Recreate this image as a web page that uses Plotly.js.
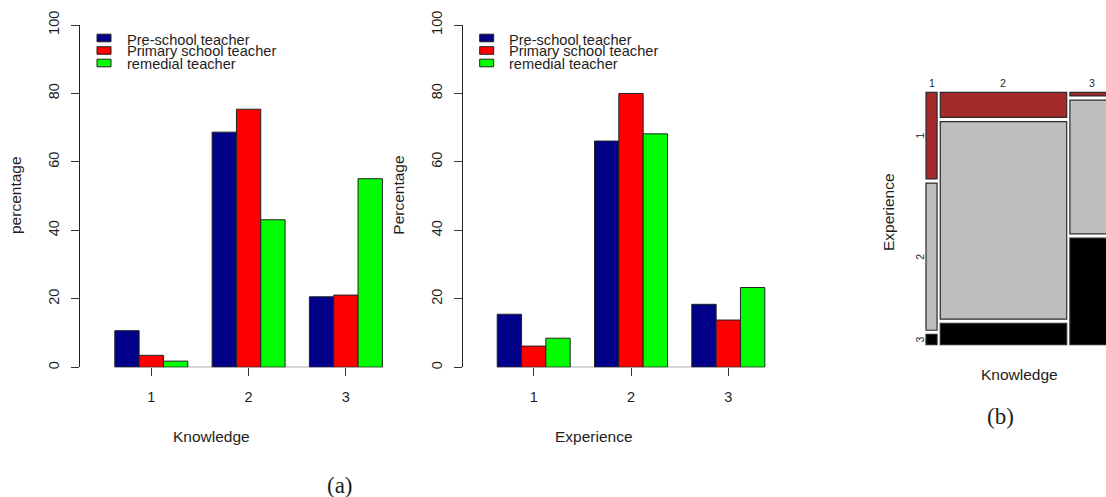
<!DOCTYPE html>
<html>
<head>
<meta charset="utf-8">
<script src="https://cdn.plot.ly/plotly-3.0.1.min.js"></script>
<style>
  html, body { margin: 0; padding: 0; background: #ffffff; }
  #chart { width: 1106px; height: 497px; }
</style>
</head>
<body>
<div id="chart"></div>
<script>
// ---- data -------------------------------------------------------------
const levels = ['1', '2', '3'];
const teacherGroups = ['Pre-school teacher', 'Primary school teacher', 'remedial teacher'];
const groupColors = ['#000088', '#ff0000', '#00ff00'];

// percentage of each teacher group at each knowledge level
const knowledgePre = [10.7, 68.7, 20.6];
const knowledgePrimary = [3.5, 75.4, 21.1];
const knowledgeRemedial = [1.8, 43.1, 55.1];

// percentage of each teacher group at each experience level
const experiencePre = [15.5, 66.1, 18.4];
const experiencePrimary = [6.2, 80.0, 13.8];
const experienceRemedial = [8.5, 68.2, 23.3];

const yTicks = [0, 20, 40, 60, 80, 100];

// mosaic: share of each knowledge level (column widths, %)
const mosaicKnowledgeShare = [6.1, 69.7, 24.2];
// experience share within each knowledge level (rows, top to bottom, %)
const mosaicExp1 = [35.5, 10.3, 1.5];
const mosaicExp2 = [60.3, 80.9, 54.8];
const mosaicExp3 = [4.2, 8.8, 43.7];
const mosaicColors = ['#a52a2a', '#bebebe', '#000000'];

// ---- page geometry helpers -------------------------------------------
const W = 1106, H = 497;
const px = x => x / W;
const py = y => 1 - y / H;
const FONT = 'Liberation Sans, Arial, sans-serif';
const SERIF = 'Liberation Serif, DejaVu Serif, serif';
const ink = '#1e1e1e';

// bar panels: y axis at left edge of the domain; 0 at y=367.3 px, 100 at y=25 px
const yDomain = [py(367.3), py(25)];
const unitPx = 97.3;                     // pixels per category step
const panels = [
  { axisPx: 80.0,  firstCenterPx: 151.3, xa: 'x',  ya: 'y',
    series: [knowledgePre, knowledgePrimary, knowledgeRemedial],
    ytitle: 'percentage', xtitle: 'Knowledge' },
  { axisPx: 462.7, firstCenterPx: 533.7, xa: 'x2', ya: 'y2',
    series: [experiencePre, experiencePrimary, experienceRemedial],
    ytitle: 'Percentage', xtitle: 'Experience' }
];

const traces = [];
const shapes = [];
const annotations = [];
const layout = {
  width: W, height: H,
  margin: { l: 0, r: 0, t: 0, b: 0 },
  paper_bgcolor: '#ffffff',
  plot_bgcolor: 'rgba(0,0,0,0)',
  showlegend: false,
  barmode: 'group',
  bargap: 0.25,
  bargroupgap: 0,
  font: { family: FONT, color: ink, size: 14 }
};

const catPos = levels.map((_, i) => i + 1);

panels.forEach((p, k) => {
  const widthPx = 314;
  const x0 = 1 - (p.firstCenterPx - p.axisPx) / unitPx;
  const x1 = x0 + widthPx / unitPx;
  const xName = k === 0 ? 'xaxis' : 'xaxis2';
  const yName = k === 0 ? 'yaxis' : 'yaxis2';

  layout[xName] = {
    domain: [px(p.axisPx), px(p.axisPx + widthPx)],
    range: [x0, x1],
    anchor: p.ya,
    tickmode: 'array', tickvals: catPos, ticktext: levels,
    ticks: 'outside', ticklen: 8, tickwidth: 1, tickcolor: '#333',
    ticklabelstandoff: 8,
    tickfont: { family: FONT, size: 14.5, color: ink },
    showline: false, showgrid: false, zeroline: false, fixedrange: true
  };
  layout[yName] = {
    domain: yDomain,
    range: [0, 100],
    anchor: p.xa,
    tickmode: 'array', tickvals: yTicks,
    tickangle: -90,
    ticks: 'outside', ticklen: 8, tickwidth: 1, tickcolor: '#333',
    ticklabelstandoff: 6,
    tickfont: { family: FONT, size: 14.5, color: ink },
    showline: true, linecolor: '#222', linewidth: 1,
    showgrid: false, zeroline: false, fixedrange: true
  };

  p.series.forEach((vals, s) => {
    traces.push({
      type: 'bar',
      x: catPos, y: vals,
      name: teacherGroups[s],
      xaxis: p.xa, yaxis: p.ya,
      marker: { color: groupColors[s], line: { color: '#222', width: 1 } },
      hoverinfo: 'skip'
    });
  });

  // baseline under the bars
  shapes.push({
    type: 'line', xref: p.xa, yref: p.ya,
    x0: 1 - 0.375, x1: levels.length + 0.375, y0: 0, y1: 0,
    line: { color: '#333', width: 1 }
  });

  // legend (boxes + labels) in the top-left of each panel
  const boxY = [38, 50.5, 63];
  const textY = [39.5, 51.5, 63.5];
  teacherGroups.forEach((g, s) => {
    shapes.push({
      type: 'rect', xref: 'paper', yref: 'paper',
      x0: px(p.axisPx + 17), x1: px(p.axisPx + 31),
      y0: py(boxY[s] + 3.8), y1: py(boxY[s] - 3.8),
      fillcolor: groupColors[s], line: { color: '#222', width: 1 }
    });
    annotations.push({
      xref: 'paper', yref: 'paper',
      x: px(p.axisPx + 44.5), y: py(textY[s]),
      xanchor: 'left', yanchor: 'middle', showarrow: false,
      text: g, font: { family: FONT, size: 14.6, color: ink }
    });
  });

  // axis titles
  annotations.push({
    xref: 'paper', yref: 'paper', x: px(p.axisPx - 65), y: py(195),
    xanchor: 'center', yanchor: 'middle', showarrow: false, textangle: -90,
    text: p.ytitle, font: { family: FONT, size: 15.5, color: ink }
  });
  annotations.push({
    xref: 'paper', yref: 'paper', x: px(p.axisPx + 131), y: py(436.5),
    xanchor: 'center', yanchor: 'middle', showarrow: false,
    text: p.xtitle, font: { family: FONT, size: 15.5, color: ink }
  });
});

annotations.push({
  xref: 'paper', yref: 'paper', x: px(340), y: py(485),
  xanchor: 'center', yanchor: 'middle', showarrow: false,
  text: '(a)', font: { family: SERIF, size: 23, color: ink }
});

// ---- mosaic plot --------------------------------------------------------
// axes x3/y3 use one unit per pixel
const mLeftPx = 926, mTopPx = 92.3, mBottomPx = 344.7;
const colGap = 3.2, rowGap = 4.2;
const mosaicWidth = 181.4;
const mosaicHeight = (mBottomPx - mTopPx) - 2 * rowGap;
const x3Lo = 870;
layout.xaxis3 = {
  domain: [px(x3Lo), 1], range: [x3Lo, W], anchor: 'y3',
  visible: false, fixedrange: true
};
layout.yaxis3 = {
  domain: [0, 1], range: [0, H], anchor: 'x3',
  visible: false, fixedrange: true
};

const rowsByLevel = [mosaicExp1, mosaicExp2, mosaicExp3];
const mx = [], mw = [], mbase = [], mh = [], mcol = [];
let colLeft = mLeftPx;
const colCenters = [];
mosaicKnowledgeShare.forEach((share, c) => {
  const w = share / 100 * mosaicWidth;
  colCenters.push(colLeft + w / 2);
  let top = H - mTopPx;                 // in y3 units (up = larger)
  rowsByLevel.forEach((row, r) => {
    const h = row[c] / 100 * mosaicHeight;
    mx.push(colLeft); mw.push(w);
    mbase.push(top - h); mh.push(h);
    mcol.push(mosaicColors[r]);
    top -= h + rowGap;
  });
  colLeft += w + colGap;
});

traces.push({
  type: 'bar', xaxis: 'x3', yaxis: 'y3',
  x: mx, y: mh, base: mbase, width: mw, offset: 0,
  marker: { color: mcol, line: { color: '#2a2a2a', width: 1.2 } },
  hoverinfo: 'skip', name: 'Experience by Knowledge'
});

// column labels (knowledge levels) above the tiles
levels.forEach((lab, c) => {
  annotations.push({
    xref: 'x3', yref: 'y3', x: colCenters[c], y: H - 83,
    xanchor: 'center', yanchor: 'middle', showarrow: false,
    text: lab, font: { family: FONT, size: 10.5, color: ink }
  });
});
// row labels (experience levels) beside the first column
let rowTop = H - mTopPx;
rowsByLevel.forEach((row, r) => {
  const h = row[0] / 100 * mosaicHeight;
  annotations.push({
    xref: 'x3', yref: 'y3', x: 920, y: rowTop - h / 2,
    xanchor: 'center', yanchor: 'middle', showarrow: false, textangle: -90,
    text: levels[r], font: { family: FONT, size: 10.5, color: ink }
  });
  rowTop -= h + rowGap;
});

annotations.push({
  xref: 'paper', yref: 'paper', x: px(888), y: py(212),
  xanchor: 'center', yanchor: 'middle', showarrow: false, textangle: -90,
  text: 'Experience', font: { family: FONT, size: 15.5, color: ink }
});
annotations.push({
  xref: 'paper', yref: 'paper', x: px(1019), y: py(374),
  xanchor: 'center', yanchor: 'middle', showarrow: false,
  text: 'Knowledge', font: { family: FONT, size: 15.5, color: ink }
});
annotations.push({
  xref: 'paper', yref: 'paper', x: px(1000), y: py(416),
  xanchor: 'center', yanchor: 'middle', showarrow: false,
  text: '(b)', font: { family: SERIF, size: 23, color: ink }
});

layout.shapes = shapes;
layout.annotations = annotations;

Plotly.newPlot('chart', traces, layout, { staticPlot: true, displayModeBar: false });
</script>
</body>
</html>
